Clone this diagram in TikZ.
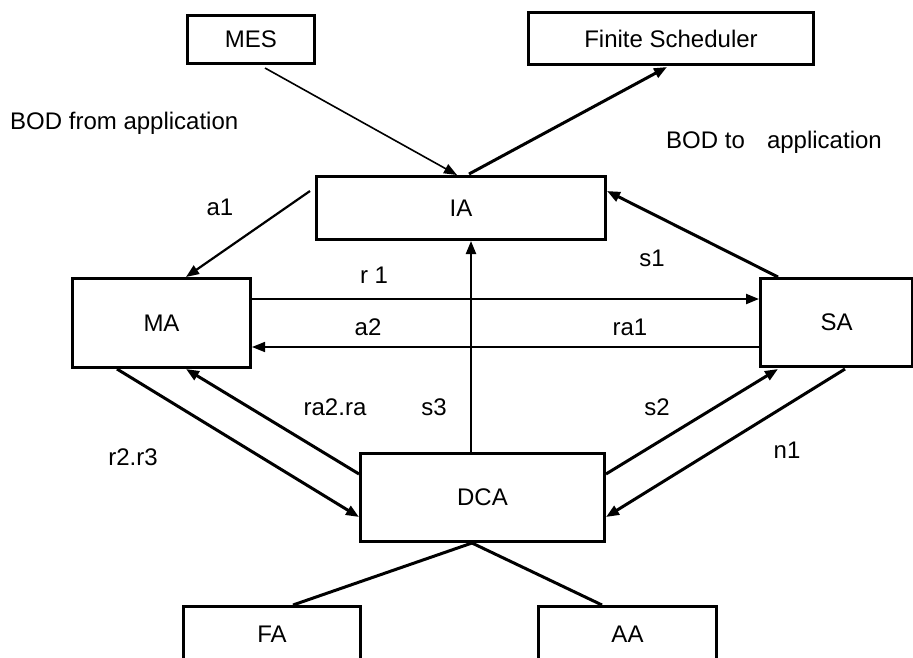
\documentclass[tikz,border=0pt]{standalone}
\usepackage{fontspec}
\setmainfont{Liberation Sans}
\usetikzlibrary{calc,arrows.meta}
\tikzset{
  box/.style={draw, line width=3pt, minimum width=#1, inner sep=0pt, anchor=north west},
  lbl/.style={inner sep=0pt, font=\fontsize{24}{28}\selectfont},
  tip/.style={-{Triangle[length=13pt,width=10pt]}},
  thin/.style={line width=1.6pt},
  thick/.style={line width=3pt},
  mid/.style={line width=2.2pt},
}
\begin{document}
\begin{tikzpicture}[x=1pt,y=-1pt]
\useasboundingbox (0,0) rectangle (913,657);
\clip (0,0) rectangle (913,657);
% boxes
\node[box=127pt, minimum height=48pt, lbl] (MES) at (186,14) {MES};
\node[box=285pt, minimum height=52pt, lbl] (FS) at (527,11) {Finite Scheduler};
\node[box=289pt, minimum height=63pt, lbl] (IA) at (315,175) {IA};
\node[box=178pt, minimum height=89pt, lbl] (MA) at (71,277) {MA};
\node[box=152pt, minimum height=88pt, lbl] (SA) at (759,277) {SA};
\node[box=244pt, minimum height=88pt, lbl] (DCA) at (359,452) {DCA};
\node[box=177pt, minimum height=56pt, lbl] (FA) at (182,605) {FA};
\node[box=178pt, minimum height=56pt, lbl] (AA) at (537,605) {AA};
% connectors
\draw[tip, thin] ($(MES.south west)+(79,3)$) -- ($(IA.north west)+(142,0)$);
\draw[tip, thick] ($(IA.north west)+(154,-1)$) -- ($(FS.south west)+(140,1)$);
\draw[tip, mid] ($(IA.north west)+(-5,16)$) -- ($(MA.north west)+(115,0)$);
\draw[tip, thick] ($(SA.north west)+(19,0)$) -- ($(IA.north east)+(0,16)$);
\draw[tip, mid] ($(MA.north east)+(0,22)$) -- ($(SA.north west)+(0,22)$);
\draw[tip, thin] ($(SA.north west)+(0,70)$) -- ($(MA.north east)+(0,70)$);
\draw[tip, mid] ($(DCA.north west)+(112,0)$) -- ($(IA.south west)+(156,0)$);
\draw[tip, thick] ($(MA.south west)+(46,0)$) -- ($(DCA.north west)+(0,65)$);
\draw[tip, thick] ($(DCA.north west)+(0,22)$) -- ($(MA.south west)+(115,0)$);
\draw[tip, thick] ($(DCA.north east)+(0,22)$) -- ($(SA.south west)+(19,1)$);
\draw[tip, thick] ($(SA.south west)+(86,1)$) -- ($(DCA.north east)+(0,65)$);
\draw[thick] ($(DCA.south west)+(113,0)$) -- ($(FA.north west)+(111,0)$);
\draw[thick] ($(DCA.south west)+(113,0)$) -- ($(AA.north west)+(65,0)$);
% labels
\node[lbl, anchor=west] (bodfrom) at (10,123) {BOD from application};
\node[lbl, anchor=west] (bodto) at (666,142) {BOD to\hspace{15.5pt} application};
\node[lbl] (la1) at (220,207) {a1};
\node[lbl] (ls1) at (652,258) {s1};
\node[lbl] (lr1) at (374,275) {r 1};
\node[lbl] (la2) at (368,327) {a2};
\node[lbl] (lra1) at (630,327) {ra1};
\node[lbl] (lra2) at (335,407) {ra2.ra};
\node[lbl] (ls3) at (434,407) {s3};
\node[lbl] (ls2) at (657,407) {s2};
\node[lbl] (lr2) at (133,457) {r2.r3};
\node[lbl] (ln1) at (787,450) {n1};
\end{tikzpicture}
\end{document}
